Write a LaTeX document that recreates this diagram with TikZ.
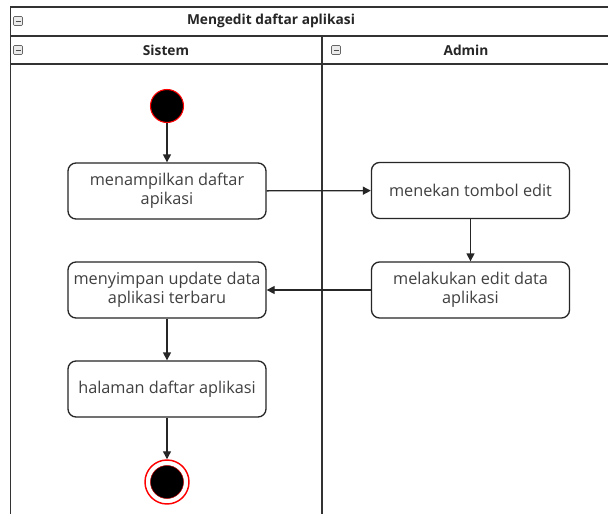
\documentclass[tikz,border=0pt]{standalone}
\usepackage{fontspec}
\setmainfont{Open Sans}
\usetikzlibrary{arrows.meta}
\begin{document}
\begin{tikzpicture}[x=0.75pt,y=-0.75pt,
  frame/.style={draw=black!80,line width=1.3pt},
  act/.style={draw=black!85,line width=1pt,rounded corners=6pt,fill=white,
    minimum width=198pt*0.75,minimum height=56pt*0.75,align=center,
    font=\fontsize{12.2}{14}\selectfont,text=black!75,inner sep=1pt},
  flow/.style={draw=black!85,line width=1pt,-{Triangle[length=6pt,width=6pt]}},
  hdr/.style={font=\bfseries\fontsize{10.3}{12}\selectfont,text=black!85},
  fold/.style={draw=black!60,fill=black!8,line width=0.4pt,rounded corners=0.8pt}]
\useasboundingbox (0,0) rectangle (608,514);
\fill[white] (0,0) rectangle (608,514);

% swimlane pool and lanes
\draw[frame] (612,7) -- (10.5,7) -- (10.5,518);
\draw[frame] (10.5,36) -- (612,36);
\draw[frame] (10.5,64) -- (612,64);
\draw[frame] (322,36) -- (322,518);

% headers
\node[hdr] (title) at (271,21) {Mengedit daftar aplikasi};
\node[hdr] (laneS) at (166,50) {Sistem};
\node[hdr] (laneA) at (466,50) {Admin};

% collapse markers
\foreach \cx/\cy in {18/21, 18/50, 336/50}{
  \draw[fold] (\cx-4.5,\cy-4.5) rectangle (\cx+4.5,\cy+4.5);
  \draw[black!70,line width=0.6pt] (\cx-2.5,\cy) -- (\cx+2.5,\cy);
}

% start and end
\node[circle,fill=black,draw=red,line width=0.8pt,minimum size=33pt*0.75,inner sep=0] (start) at (167,106) {};
\node[circle,draw=red,line width=1.1pt,minimum size=44pt*0.75,inner sep=0] (endO) at (167,482) {};
\node[circle,fill=black,draw=red!70!black,line width=0.4pt,minimum size=33pt*0.75,inner sep=0] (endI) at (167,482) {};

% activities
\node[act] (a1) at (167,191) {menampilkan daftar\\apikasi};
\node[act] (a2) at (470.5,190.5) {menekan tombol edit};
\node[act] (a3) at (470.5,290) {melakukan edit data\\aplikasi};
\node[act] (a4) at (167,290) {menyimpan update data\\aplikasi terbaru};
\node[act] (a5) at (167,389) {halaman daftar aplikasi};

% control flow
\draw[flow] (start) -- (a1);
\draw[flow] (a1) -- (a2);
\draw[flow] (a2) -- (a3);
\draw[flow] (a3) -- (a4);
\draw[flow] (a4) -- (a5);
\draw[flow] (a5) -- (endO);
\end{tikzpicture}
\end{document}
